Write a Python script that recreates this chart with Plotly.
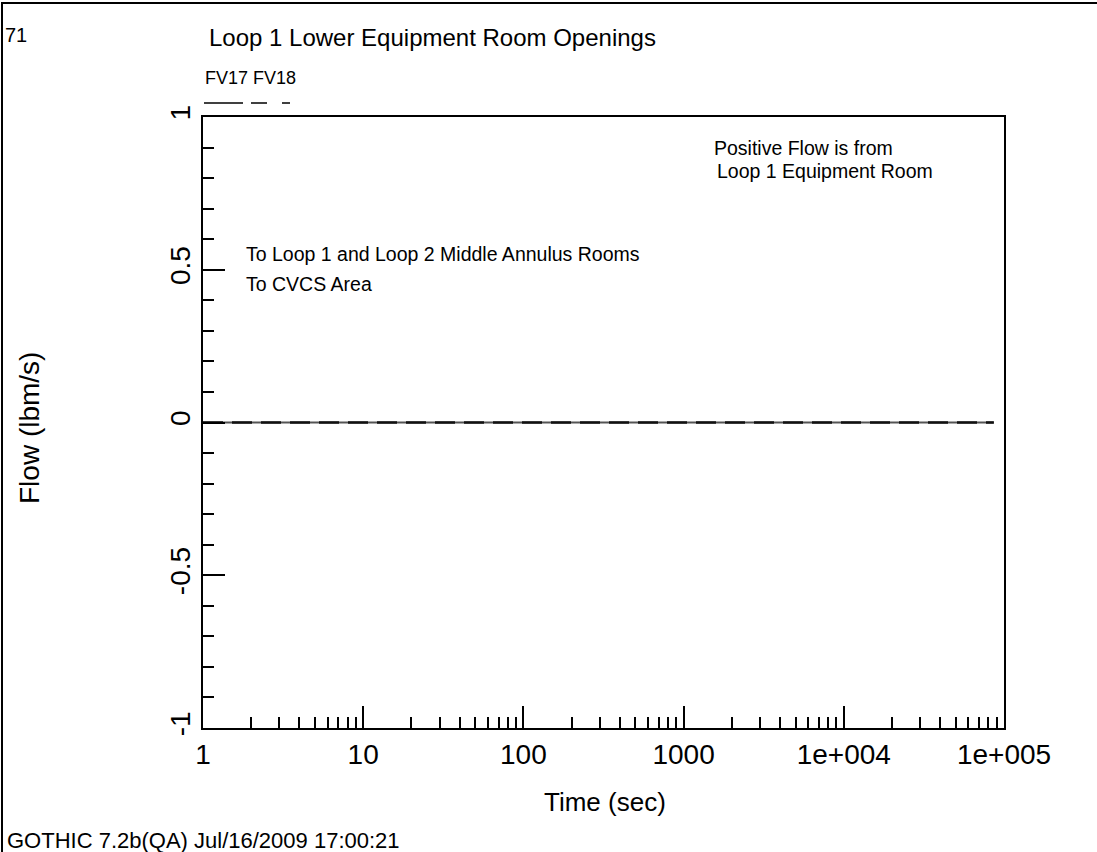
import plotly.graph_objects as go

# Time history of the two flow paths out of the Loop 1 lower equipment room
time_s = [1, 2, 5, 10, 20, 50, 100, 200, 500, 1000, 2000, 5000, 10000, 20000, 50000, 86400]
fv17 = [0, 0, 0, 0, 0, 0, 0, 0, 0, 0, 0, 0, 0, 0, 0, 0]
fv18 = [0, 0, 0, 0, 0, 0, 0, 0, 0, 0, 0, 0, 0, 0, 0, 0]

x_tickvals = [1, 10, 100, 1000, 10000, 100000]
x_ticktext = ["1", "10", "100", "1000", "1e+004", "1e+005"]
y_tickvals = [-1, -0.5, 0, 0.5, 1]
y_ticktext = ["-1", "-0.5", "0", "0.5", "1"]

W, H = 1097, 852
L, R, T, B = 203, 93, 117, 124
PW, PH = W - L - R, H - T - B
FONT = "Liberation Sans, Arial, sans-serif"


def px(x):
    return (x - L) / PW


def py(y):
    return (H - B - y) / PH


fig = go.Figure()
fig.add_trace(go.Scatter(x=time_s, y=fv17, mode="lines", name="FV17",
                         line=dict(color="#555555", width=2)))
fig.add_trace(go.Scatter(x=time_s, y=fv18, mode="lines", name="FV18",
                         line=dict(color="#111111", width=2.4, dash="20px,9px")))

minor_x = [m * 10 ** d for d in range(5) for m in range(2, 10)]

fig.update_layout(
    width=W, height=H,
    margin=dict(l=L, r=R, t=T, b=B, pad=0),
    paper_bgcolor="white", plot_bgcolor="white",
    showlegend=False,
    font=dict(family=FONT, color="black"),
    xaxis=dict(
        type="log", range=[0, 5],
        tickmode="array", tickvals=x_tickvals, ticktext=x_ticktext,
        ticks="inside", ticklen=22, tickwidth=1.5, tickcolor="black",
        minor=dict(tickmode="array", tickvals=minor_x, ticks="inside",
                   ticklen=11, tickwidth=1.5, tickcolor="black", showgrid=False),
        showline=True, linecolor="black", linewidth=2, mirror=True,
        showgrid=False, zeroline=False,
        tickfont=dict(size=28, family=FONT),
    ),
    yaxis=dict(
        range=[-1, 1],
        tickmode="array", tickvals=y_tickvals, ticktext=y_ticktext,
        tickangle=-90,
        ticks="inside", ticklen=22, tickwidth=1.5, tickcolor="black",
        minor=dict(dtick=0.1, tick0=0, ticks="inside", ticklen=11,
                   tickwidth=1.5, tickcolor="black", showgrid=False),
        showline=True, linecolor="black", linewidth=2, mirror=True,
        showgrid=False, zeroline=False,
        tickfont=dict(size=28, family=FONT),
    ),
)

ann = [
    dict(text="Loop 1 Lower Equipment Room Openings", x=px(207), y=py(37), size=24, xa="left"),
    dict(text="71", x=px(3), y=py(35), size=20, xa="left"),
    dict(text="FV17", x=px(203), y=py(78), size=18, xa="left"),
    dict(text="FV18", x=px(251), y=py(78), size=18, xa="left"),
    dict(text="Positive Flow is from", x=px(712), y=py(148), size=19.5, xa="left"),
    dict(text="Loop 1 Equipment Room", x=px(715), y=py(171), size=19.5, xa="left"),
    dict(text="To Loop 1 and Loop 2 Middle Annulus Rooms", x=px(244), y=py(254), size=19.5, xa="left"),
    dict(text="To CVCS Area", x=px(244), y=py(284), size=19.5, xa="left"),
    dict(text="Time (sec)", x=px(605), y=py(802), size=26, xa="center"),
    dict(text="GOTHIC 7.2b(QA) Jul/16/2009 17:00:21", x=px(5), y=py(840), size=22, xa="left"),
]
for a in ann:
    fig.add_annotation(text=a["text"], x=a["x"], y=a["y"], xref="paper", yref="paper",
                       xanchor=a["xa"], yanchor="middle", showarrow=False,
                       font=dict(size=a["size"], family=FONT, color="black"))

fig.add_annotation(text="Flow (lbm/s)", x=px(29), y=py(428), xref="paper", yref="paper",
                   xanchor="center", yanchor="middle", showarrow=False, textangle=-90,
                   font=dict(size=28, family=FONT, color="black"))

# Legend line samples under the series names
fig.add_shape(type="line", xref="paper", yref="paper",
              x0=px(204), x1=px(243), y0=py(103), y1=py(103),
              line=dict(color="black", width=1.5))
fig.add_shape(type="line", xref="paper", yref="paper",
              x0=px(251), x1=px(290), y0=py(103), y1=py(103),
              line=dict(color="black", width=1.5, dash="16px,15px"))

# Page frame
fig.add_shape(type="rect", xref="paper", yref="paper",
              x0=px(2), x1=px(1200), y0=py(3), y1=py(960),
              line=dict(color="black", width=2), fillcolor="rgba(0,0,0,0)")

fig.write_html("out.html")
